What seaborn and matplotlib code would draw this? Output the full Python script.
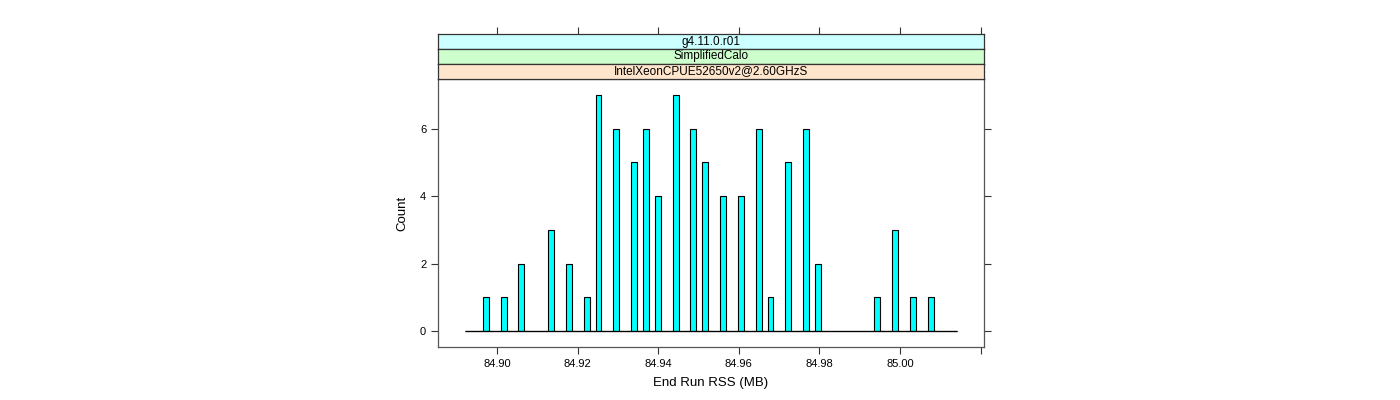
import numpy as np
import pandas as pd
import matplotlib
matplotlib.use("Agg")
import matplotlib.pyplot as plt
import seaborn as sns

# ---- data ----
rss_values = [84.8972, 84.9017, 84.9061, 84.9134, 84.9178, 84.9223, 84.9252, 84.9296,
              84.9340, 84.9370, 84.9399, 84.9443, 84.9487, 84.9517, 84.9561, 84.9605,
              84.9649, 84.9679, 84.9723, 84.9767, 84.9796, 84.9943, 84.9988, 85.0032,
              85.0076]
counts = [1, 1, 2, 3, 2, 1, 7, 6, 5, 6, 4, 7, 6, 5, 4, 4, 6, 1, 5, 6, 2, 1, 3, 1, 1]
strip_labels = ["g4.11.0.r01", "SimplifiedCalo", "IntelXeonCPUE52650v2@2.60GHzS"]
strip_colors = ["#ccffff", "#ccffcc", "#ffe5cc"]
x_ticks = [84.90, 84.92, 84.94, 84.96, 84.98, 85.00, 85.02]
x_tick_labels = ["84.90", "84.92", "84.94", "84.96", "84.98", "85.00", ""]
y_ticks = [0, 2, 4, 6]
bin_start, bin_end, n_bins = 84.8921, 85.0142, 83

df = pd.DataFrame({"rss": rss_values, "count": counts})

sns.set_theme(style="white")
plt.rcParams['font.family'] = ['Liberation Sans', 'DejaVu Sans']
plt.rcParams['text.color'] = 'black'
plt.rcParams['axes.labelcolor'] = 'black'

fig = plt.figure(figsize=(14, 4), dpi=100)
W, H = 1400, 400
L, R, T, B = 438, 984, 79, 347
ax = fig.add_axes([L / W, 1 - B / H, (R - L) / W, (B - T) / H])

sns.histplot(data=df, x="rss", weights="count", bins=n_bins,
             binrange=(bin_start, bin_end), ax=ax, color="#00ffff",
             edgecolor="black", linewidth=0.8, alpha=1)
ax.hlines(0, bin_start, bin_end, color="black", linewidth=0.9, zorder=3)

ax.set_xlim(84.8854, 85.0208)
ax.set_ylim(-0.475, 7.475)
ax.set_xticks(x_ticks)
ax.set_xticklabels(x_tick_labels)
ax.set_yticks(y_ticks)
ax.set_xlabel("End Run RSS (MB)", fontsize=9.5, labelpad=6)
ax.set_ylabel("Count", fontsize=9.5, labelpad=8)
ax.tick_params(axis="both", which="both", direction="out", length=5, width=0.8,
               colors="#333333", labelsize=8, labelcolor="black",
               bottom=True, left=True, right=True, top=False, labelright=False)
for s in ax.spines.values():
    s.set_color("#555555")
    s.set_linewidth(0.9)

strip_h = 15
for i, (lab, col) in enumerate(zip(strip_labels, strip_colors)):
    top = T - strip_h * (3 - i)
    sax = fig.add_axes([L / W, 1 - (top + strip_h) / H, (R - L) / W, strip_h / H])
    sax.set_facecolor(col)
    sax.set_xlim(ax.get_xlim())
    sax.set_ylim(0, 1)
    sax.set_yticks([])
    if i == 0:
        sax.set_xticks(x_ticks)
        sax.tick_params(axis="x", which="both", direction="out", length=5, width=0.8,
                        colors="#333333", bottom=False, top=True,
                        labelbottom=False, labeltop=False)
    else:
        sax.set_xticks([])
    for s in sax.spines.values():
        s.set_color("#333333")
        s.set_linewidth(0.9)
    sax.text(0.5, 0.5, lab, transform=sax.transAxes, ha="center", va="center",
             fontsize=8.5, color="black")

fig.savefig("out.png", dpi=100)
